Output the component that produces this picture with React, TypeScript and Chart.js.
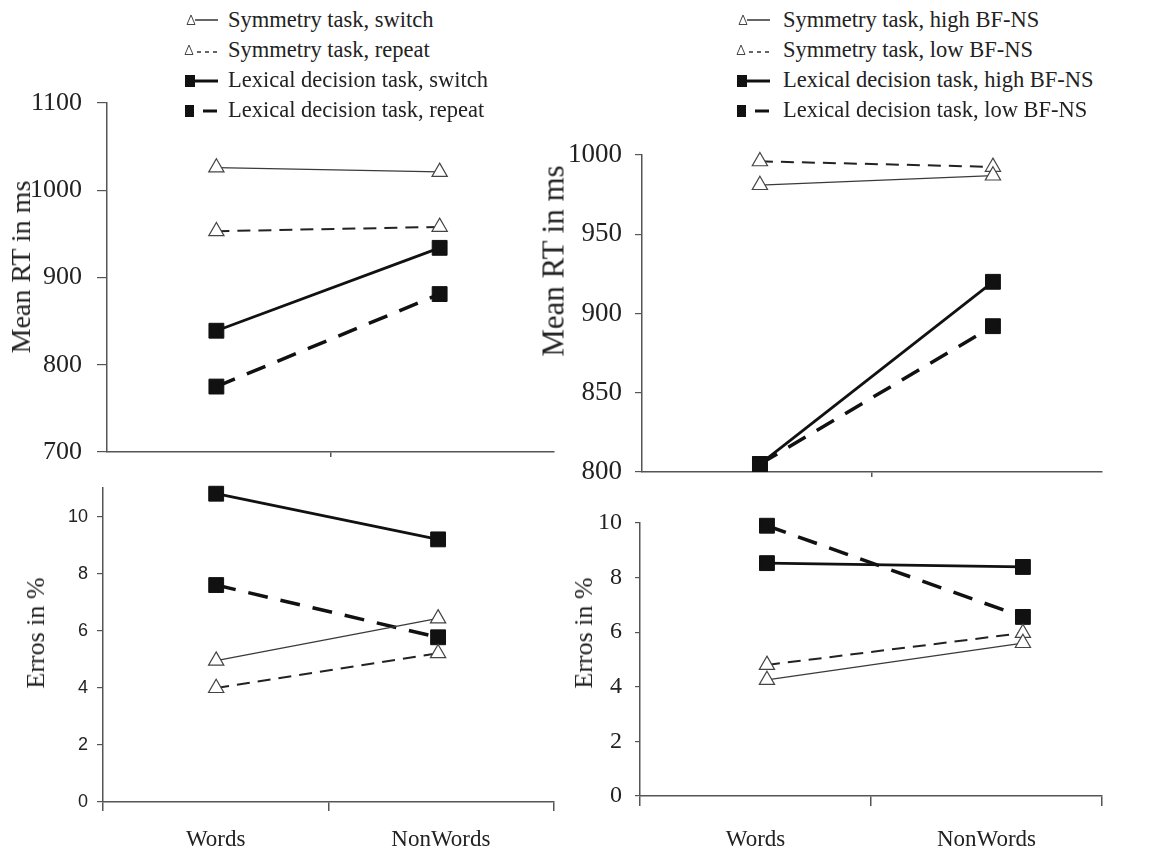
import React, { useEffect, useRef } from "react";
import { Chart, registerables } from "chart.js";

Chart.register(...registerables);

const categories = ["Words", "NonWords"];

// Experiment 1: switch vs. repeat trials
const rtSymmetrySwitch = [1026, 1021];
const rtSymmetryRepeat = [953, 958];
const rtLexicalSwitch = [839, 934];
const rtLexicalRepeat = [775, 881];

const errSymmetrySwitch = [4.95, 6.43];
const errSymmetryRepeat = [3.99, 5.21];
const errLexicalSwitch = [10.8, 9.2];
const errLexicalRepeat = [7.6, 5.77];

// Experiment 2: high vs. low BF-NS
const rtSymmetryHigh = [981, 987];
const rtSymmetryLow = [996, 992.5];
const rtLexicalHigh = [805, 920];
const rtLexicalLow = [805, 892];

const errSymmetryHigh = [4.25, 5.6];
const errSymmetryLow = [4.8, 5.97];
const errLexicalHigh = [8.53, 8.39];
const errLexicalLow = [9.9, 6.56];

const legendSwitch = [
  "Symmetry task, switch",
  "Symmetry task, repeat",
  "Lexical decision task, switch",
  "Lexical decision task, repeat",
];
const legendBfns = [
  "Symmetry task, high BF-NS",
  "Symmetry task, low BF-NS",
  "Lexical decision task, high BF-NS",
  "Lexical decision task, low BF-NS",
];

const rtAxisTitle = "Mean RT in ms";
const errAxisTitle = "Erros in %";

const SERIF = "'Liberation Serif', 'Times New Roman', serif";
const SANS = "'Liberation Sans', Arial, sans-serif";
const AXIS = "#555";
const TEXT = "#222";

// solid symmetry, dashed symmetry, solid lexical, dashed lexical
const seriesStyles = [
  {
    borderColor: "#3a3a3a",
    borderWidth: 1.3,
    borderDash: [] as number[],
    pointStyle: "triangle",
    pointRadius: 8.8,
    pointBackgroundColor: "#fff",
    pointBorderColor: "#444",
    pointBorderWidth: 1.2,
  },
  {
    borderColor: "#222",
    borderWidth: 2,
    borderDash: [13, 8],
    pointStyle: "triangle",
    pointRadius: 8.8,
    pointBackgroundColor: "#fff",
    pointBorderColor: "#444",
    pointBorderWidth: 1.2,
  },
  {
    borderColor: "#111",
    borderWidth: 2.8,
    borderDash: [] as number[],
    pointStyle: "rect",
    pointRadius: 10.5,
    pointBackgroundColor: "#111",
    pointBorderColor: "#111",
    pointBorderWidth: 1,
  },
  {
    borderColor: "#111",
    borderWidth: 3.5,
    borderDash: [20, 13],
    pointStyle: "rect",
    pointRadius: 10.5,
    pointBackgroundColor: "#111",
    pointBorderColor: "#111",
    pointBorderWidth: 1,
  },
];

type Panel = {
  box: { left: number; top: number; width: number; height: number };
  names: string[];
  series: number[][];
  y: { min: number; max: number; step: number };
  xRange: [number, number];
  yAxisWidth: number;
  xAxisHeight: number;
  padTop: number;
  padRight: number;
  yTickFont: { family: string; size: number };
  yTickLength: number;
  yTickPadding: number;
  xLabels: boolean;
  xTickLength: number;
  xTickPadding: number;
};

// Each canvas is sized so that its plot area lands where the panel belongs;
// the top padding and x-axis height leave room for the y-axis end labels.
const panels: Panel[] = [
  {
    box: { left: 0, top: 67, width: 565, height: 421 },
    names: legendSwitch,
    series: [rtSymmetrySwitch, rtSymmetryRepeat, rtLexicalSwitch, rtLexicalRepeat],
    y: { min: 700, max: 1100, step: 100 },
    xRange: [-0.49, 1.51],
    yAxisWidth: 107,
    xAxisHeight: 36,
    padTop: 36,
    padRight: 10,
    yTickFont: { family: SERIF, size: 26 },
    yTickLength: 10,
    yTickPadding: 15,
    xLabels: false,
    xTickLength: 5,
    xTickPadding: 0,
  },
  {
    box: { left: 0, top: 452, width: 565, height: 400 },
    names: legendSwitch,
    series: [errSymmetrySwitch, errSymmetryRepeat, errLexicalSwitch, errLexicalRepeat],
    y: { min: 0, max: 11, step: 2 },
    xRange: [-0.51, 1.52],
    yAxisWidth: 103,
    xAxisHeight: 50,
    padTop: 36,
    padRight: 10,
    yTickFont: { family: SANS, size: 18 },
    yTickLength: 6,
    yTickPadding: 9,
    xLabels: true,
    xTickLength: 9,
    xTickPadding: 15,
  },
  {
    box: { left: 530, top: 119, width: 584, height: 389 },
    names: legendBfns,
    series: [rtSymmetryHigh, rtSymmetryLow, rtLexicalHigh, rtLexicalLow],
    y: { min: 800, max: 1000, step: 50 },
    xRange: [-0.506, 1.468],
    yAxisWidth: 112,
    xAxisHeight: 36,
    padTop: 36,
    padRight: 12,
    yTickFont: { family: SERIF, size: 27 },
    yTickLength: 7,
    yTickPadding: 13,
    xLabels: false,
    xTickLength: 5,
    xTickPadding: 0,
  },
  {
    box: { left: 530, top: 487, width: 584, height: 365 },
    names: legendBfns,
    series: [errSymmetryHigh, errSymmetryLow, errLexicalHigh, errLexicalLow],
    y: { min: 0, max: 10, step: 2 },
    xRange: [-0.496, 1.309],
    yAxisWidth: 110,
    xAxisHeight: 56,
    padTop: 36,
    padRight: 12,
    yTickFont: { family: SERIF, size: 24 },
    yTickLength: 5,
    yTickPadding: 13,
    xLabels: true,
    xTickLength: 10,
    xTickPadding: 20,
  },
];

const axisTitles = [
  { text: rtAxisTitle, cx: 21, cy: 267, size: 28 },
  { text: errAxisTitle, cx: 36, cy: 633, size: 26 },
  { text: rtAxisTitle, cx: 553, cy: 261, size: 31 },
  { text: errAxisTitle, cx: 584, cy: 633, size: 26 },
];

const legends = [
  { names: legendSwitch, symbolLeft: 183, textLeft: 228 },
  { names: legendBfns, symbolLeft: 735, textLeft: 783 },
];

function buildConfig(p: Panel): any {
  return {
    type: "line",
    data: {
      labels: categories,
      datasets: p.series.map((vals, k) => ({
        label: p.names[k],
        data: vals.map((v, i) => ({ x: i, y: v })),
        xAxisID: "xp",
        yAxisID: "y",
        fill: false,
        tension: 0,
        clip: false,
        ...seriesStyles[k],
      })),
    },
    options: {
      responsive: false,
      animation: false,
      devicePixelRatio: 1,
      events: [],
      layout: { padding: { top: p.padTop, right: p.padRight, left: 0, bottom: 0 } },
      plugins: { legend: { display: false }, tooltip: { enabled: false } },
      scales: {
        x: {
          type: "category",
          position: "bottom",
          offset: true,
          grid: {
            offset: true,
            drawOnChartArea: false,
            drawTicks: true,
            tickLength: p.xTickLength,
            lineWidth: 1.5,
            color: (ctx: any) =>
              p.xLabels || ctx.index === 1 ? AXIS : "rgba(0,0,0,0)",
          },
          border: { display: true, color: AXIS, width: 1.5 },
          ticks: {
            display: p.xLabels,
            color: TEXT,
            padding: p.xTickPadding,
            font: { family: SERIF, size: 23 },
            maxRotation: 0,
          },
          afterFit: (s: any) => {
            s.height = p.xAxisHeight;
          },
        },
        xp: {
          type: "linear",
          position: "bottom",
          display: false,
          min: p.xRange[0],
          max: p.xRange[1],
        },
        y: {
          type: "linear",
          position: "left",
          min: p.y.min,
          max: p.y.max,
          ticks: {
            stepSize: p.y.step,
            includeBounds: false,
            color: TEXT,
            padding: p.yTickPadding,
            font: p.yTickFont,
            callback: (v: any) => String(v),
          },
          grid: {
            drawOnChartArea: false,
            drawTicks: true,
            tickLength: p.yTickLength,
            color: AXIS,
            lineWidth: 1.2,
          },
          border: { display: true, color: AXIS, width: 1.5 },
          afterFit: (s: any) => {
            s.width = p.yAxisWidth;
          },
        },
      },
    },
  };
}

function LegendSymbol({ kind }: { kind: number }) {
  return (
    <svg width={40} height={30} style={{ position: "absolute", left: 0, top: 0 }}>
      {kind === 0 && (
        <>
          <line x1={12} y1={15} x2={35} y2={15} stroke="#333" strokeWidth={1.5} />
          <polygon points="8,10 12,19.5 4,19.5" fill="#fff" stroke="#444" strokeWidth={1} />
        </>
      )}
      {kind === 1 && (
        <>
          <line x1={14} y1={17} x2={35} y2={17} stroke="#333" strokeWidth={1.5} strokeDasharray="4 4" />
          <polygon points="6,10 10,19.5 2,19.5" fill="#fff" stroke="#444" strokeWidth={1} />
        </>
      )}
      {kind === 2 && (
        <>
          <line x1={12} y1={16} x2={35} y2={16} stroke="#111" strokeWidth={3} />
          <rect x={2} y={10} width={10} height={12} fill="#111" />
        </>
      )}
      {kind === 3 && (
        <>
          <line x1={20} y1={16} x2={34} y2={16} stroke="#111" strokeWidth={3} />
          <rect x={2} y={10} width={9} height={12} fill="#111" />
        </>
      )}
    </svg>
  );
}

export default function App() {
  const canvasRefs = useRef<(HTMLCanvasElement | null)[]>([]);

  useEffect(() => {
    const charts = panels.map((p, i) => new Chart(canvasRefs.current[i] as HTMLCanvasElement, buildConfig(p)));
    return () => charts.forEach((c) => c.destroy());
  }, []);

  return (
    <div
      style={{
        position: "absolute",
        left: 0,
        top: 0,
        width: 1174,
        height: 852,
        overflow: "hidden",
        background: "#fff",
        fontFamily: SERIF,
        color: TEXT,
      }}
    >
      {panels.map((p, i) => (
        <canvas
          key={i}
          ref={(el) => {
            canvasRefs.current[i] = el;
          }}
          width={p.box.width}
          height={p.box.height}
          style={{
            position: "absolute",
            left: p.box.left,
            top: p.box.top,
            width: p.box.width,
            height: p.box.height,
            display: "block",
          }}
        />
      ))}

      {axisTitles.map((t, i) => (
        <div
          key={"t" + i}
          style={{
            position: "absolute",
            left: t.cx,
            top: t.cy,
            transform: "translate(-50%, -50%) rotate(-90deg)",
            fontSize: t.size,
            lineHeight: 1,
            whiteSpace: "nowrap",
          }}
        >
          {t.text}
        </div>
      ))}

      {legends.map((lg, li) =>
        lg.names.map((name, k) => (
          <React.Fragment key={"l" + li + "-" + k}>
            <div
              style={{
                position: "absolute",
                left: lg.symbolLeft,
                top: 5 + 30 * k,
                width: 40,
                height: 30,
              }}
            >
              <LegendSymbol kind={k} />
            </div>
            <div
              style={{
                position: "absolute",
                left: lg.textLeft,
                top: 5 + 30 * k,
                fontSize: 22.5,
                lineHeight: "30px",
                whiteSpace: "nowrap",
              }}
            >
              {name}
            </div>
          </React.Fragment>
        ))
      )}
    </div>
  );
}
